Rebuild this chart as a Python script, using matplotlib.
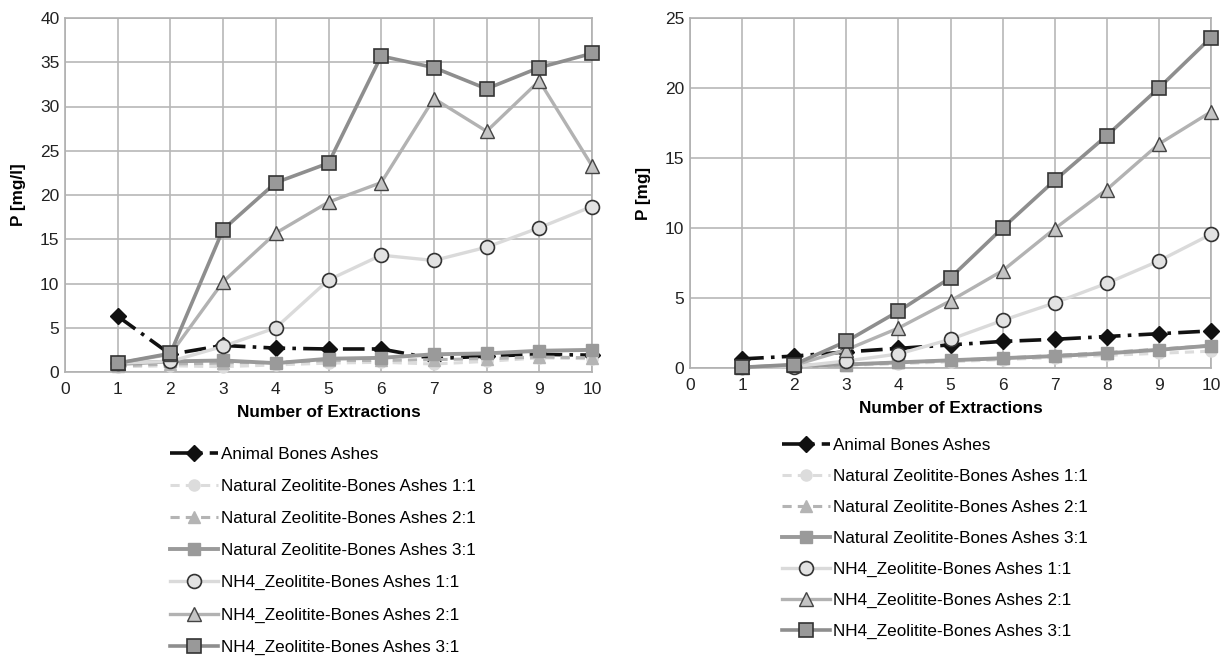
import matplotlib
matplotlib.use("Agg")
import matplotlib.pyplot as plt

x = [1, 2, 3, 4, 5, 6, 7, 8, 9, 10]

labels = ["Animal Bones Ashes",
          "Natural Zeolitite-Bones Ashes 1:1",
          "Natural Zeolitite-Bones Ashes 2:1",
          "Natural Zeolitite-Bones Ashes 3:1",
          "NH4_Zeolitite-Bones Ashes 1:1",
          "NH4_Zeolitite-Bones Ashes 2:1",
          "NH4_Zeolitite-Bones Ashes 3:1"]

# Left panel: P [mg/l]
left_animal = [6.3, 2.0, 3.0, 2.7, 2.6, 2.6, 1.5, 1.8, 2.0, 1.9]
left_nat11 = [0.6, 0.7, 0.6, 0.8, 1.0, 1.1, 0.9, 1.2, 1.6, 1.5]
left_nat21 = [0.7, 0.9, 1.0, 1.1, 1.3, 1.3, 1.4, 1.5, 1.7, 1.6]
left_nat31 = [0.9, 1.2, 1.3, 1.0, 1.5, 1.6, 2.0, 2.1, 2.4, 2.5]
left_nh11 = [1.0, 1.2, 2.9, 5.0, 10.4, 13.2, 12.6, 14.1, 16.3, 18.7]
left_nh21 = [1.0, 2.0, 10.2, 15.7, 19.2, 21.4, 30.9, 27.2, 32.9, 23.3]
left_nh31 = [1.0, 2.1, 16.1, 21.4, 23.6, 35.7, 34.4, 32.0, 34.4, 36.0]

# Right panel: P [mg]
right_animal = [0.65, 0.85, 1.15, 1.4, 1.65, 1.9, 2.05, 2.25, 2.45, 2.65]
right_nat11 = [0.03, 0.1, 0.2, 0.3, 0.45, 0.6, 0.75, 0.9, 1.05, 1.2]
right_nat21 = [0.05, 0.15, 0.25, 0.4, 0.55, 0.7, 0.9, 1.1, 1.35, 1.6]
right_nat31 = [0.05, 0.15, 0.25, 0.4, 0.55, 0.7, 0.85, 1.05, 1.3, 1.6]
right_nh11 = [0.05, 0.1, 0.5, 1.0, 2.05, 3.4, 4.65, 6.05, 7.65, 9.55]
right_nh21 = [0.05, 0.2, 1.3, 2.85, 4.8, 6.95, 9.95, 12.75, 16.0, 18.3]
right_nh31 = [0.05, 0.25, 1.9, 4.05, 6.45, 10.0, 13.4, 16.6, 20.0, 23.6]

plt.rcParams['font.family'] = ['Liberation Sans', 'DejaVu Sans']

W, H = 1230, 660
fig = plt.figure(figsize=(12.3, 6.6), dpi=100)
axL = fig.add_axes([65 / W, 1 - 372 / H, (592 - 65) / W, (372 - 18) / H])
axR = fig.add_axes([690 / W, 1 - 368 / H, (1211 - 690) / W, (368 - 18) / H])

styles = [
    dict(color='#111111', lw=2.6, ls=(0, (6, 2, 1, 2)), marker='D', ms=8, mfc='#111111', mec='#111111'),
    dict(color='#dcdcdc', lw=2.2, ls=(0, (3, 2)), marker='o', ms=8, mfc='#dcdcdc', mec='#dcdcdc'),
    dict(color='#b4b4b4', lw=2.2, ls=(0, (3, 2)), marker='^', ms=8, mfc='#b4b4b4', mec='#b4b4b4'),
    dict(color='#9a9a9a', lw=2.8, ls='-', marker='s', ms=9, mfc='#9a9a9a', mec='#9a9a9a'),
    dict(color='#dadada', lw=2.4, ls='-', marker='o', ms=10, mfc='#e2e2e2', mec='#333333', mew=1.2),
    dict(color='#b2b2b2', lw=2.4, ls='-', marker='^', ms=10, mfc='#c4c4c4', mec='#444444', mew=1.0),
    dict(color='#8e8e8e', lw=2.6, ls='-', marker='s', ms=10, mfc='#999999', mec='#333333', mew=1.2),
]

left_data = [left_animal, left_nat11, left_nat21, left_nat31, left_nh11, left_nh21, left_nh31]
right_data = [right_animal, right_nat11, right_nat21, right_nat31, right_nh11, right_nh21, right_nh31]
order = [1, 2, 3, 0, 4, 5, 6]

def setup(ax, ymax, ystep, ylabel):
    ax.set_xlim(0, 10)
    ax.set_ylim(0, ymax)
    ax.set_xticks(range(0, 11))
    ax.set_yticks(range(0, ymax + 1, ystep))
    ax.grid(True, color='#b8b8b8', lw=1.2)
    ax.set_axisbelow(True)
    for s in ax.spines.values():
        s.set_color('#b0b0b0')
        s.set_linewidth(1.2)
    ax.tick_params(length=0, labelsize=12.5, colors='#222222')
    ax.tick_params(axis='x', pad=7)
    ax.tick_params(axis='y', pad=4)
    ax.set_xlabel("Number of Extractions", fontsize=12.3, fontweight='bold', labelpad=6)
    ax.set_ylabel(ylabel, fontsize=12.3, fontweight='bold', labelpad=10)

handlesL = {}
handlesR = {}
for i in order:
    h, = axL.plot(x, left_data[i], label=labels[i], clip_on=False, zorder=3 + i, **styles[i])
    handlesL[i] = h
    h, = axR.plot(x, right_data[i], label=labels[i], clip_on=False, zorder=3 + i, **styles[i])
    handlesR[i] = h

setup(axL, 40, 5, "P [mg/l]")
setup(axR, 25, 5, "P [mg]")

legkw = dict(frameon=False, fontsize=12.3, handlelength=2.8, handletextpad=0.2,
             labelspacing=1.0, borderaxespad=0, borderpad=0, loc='upper left')
fig.legend([handlesL[i] for i in range(7)], labels, bbox_to_anchor=(170 / W, 1 - 447 / H), **legkw)
legkw['labelspacing'] = 0.93
fig.legend([handlesR[i] for i in range(7)], labels, bbox_to_anchor=(782 / W, 1 - 438 / H), **legkw)

fig.savefig("out.png", dpi=100)
